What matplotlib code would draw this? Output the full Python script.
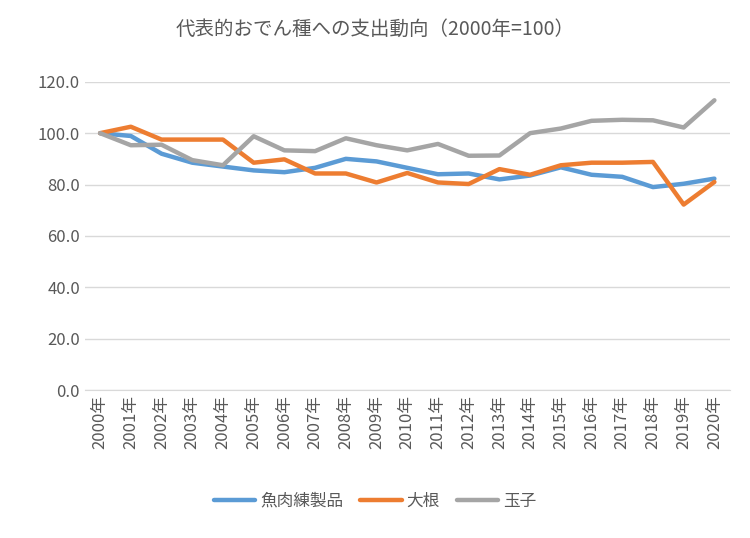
import matplotlib
matplotlib.use("Agg")
import matplotlib.pyplot as plt

plt.rcParams["font.family"] = ["Noto Sans CJK JP"]

years = [f"{y}年" for y in range(2000, 2021)]
fish = [100, 98.9, 92.0, 88.5, 87.0, 85.5, 84.8, 86.5, 90.0, 89.0, 86.5, 84.0, 84.3, 82.0, 83.5, 86.7, 83.8, 83.0, 79.0, 80.3, 82.3]
daikon = [100, 102.5, 97.5, 97.5, 97.5, 88.5, 89.8, 84.3, 84.3, 80.8, 84.5, 80.8, 80.2, 86.0, 83.8, 87.5, 88.5, 88.5, 88.8, 72.2, 81.0]
egg = [100, 95.3, 95.5, 89.5, 87.5, 98.8, 93.3, 93.0, 98.0, 95.3, 93.3, 95.8, 91.2, 91.3, 100.0, 101.8, 104.8, 105.2, 105.0, 102.2, 112.8]
names = ["魚肉練製品", "大根", "玉子"]
colors = ["#5B9BD5", "#ED7D31", "#A5A5A5"]
title = "代表的おでん種への支出動向（2000年=100）"

fig = plt.figure(figsize=(7.5, 5.38), dpi=100)
ax = fig.add_axes([0.113, 0.275, 0.86, 0.573])
x = range(len(years))
for s, n, c in zip([fish, daikon, egg], names, colors):
    ax.plot(x, s, color=c, lw=3.2, label=n, solid_capstyle="round")
ax.set_ylim(0, 120)
ax.set_yticks(range(0, 121, 20))
ax.set_yticklabels([f"{v:.1f}" for v in range(0, 121, 20)], fontsize=12, color="#595959")
ax.set_xlim(-0.5, len(years) - 0.5)
ax.set_xticks(list(x))
ax.set_xticklabels(years, rotation=90, fontsize=12, color="#595959")
ax.grid(axis="y", color="#D9D9D9", lw=1)
ax.tick_params(length=0)
for sp in ["top", "right", "left"]:
    ax.spines[sp].set_visible(False)
ax.spines["bottom"].set_color("#D9D9D9")
ax.set_axisbelow(True)
fig.text(0.5, 0.935, title, ha="center", fontsize=14, color="#595959")
fig.legend(loc="lower center", bbox_to_anchor=(0.5, 0.025), ncol=3, frameon=False,
           fontsize=12, handlelength=2.5, handletextpad=0.3, columnspacing=1.0,
           labelcolor="#595959")
fig.savefig("out.png")
